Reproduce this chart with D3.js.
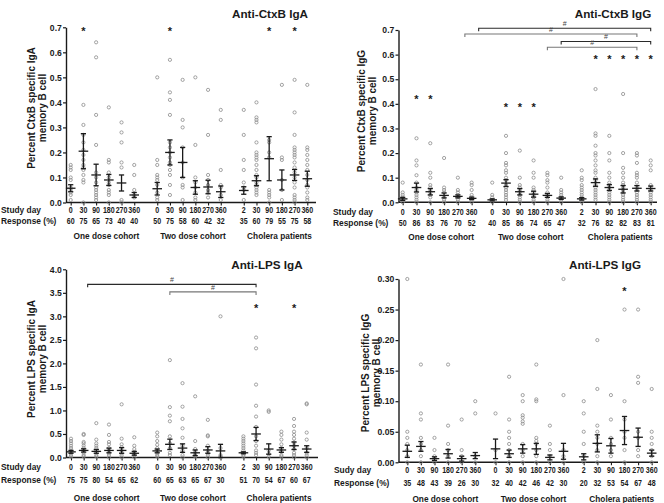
<!DOCTYPE html>
<html><head><meta charset="utf-8">
<script src="https://cdn.jsdelivr.net/npm/d3@7"></script>
<style>body{margin:0;background:#fff} svg{display:block}</style>
</head><body><svg id="c" width="664" height="503"></svg>
<script>
// ---------------- shared categories ----------------
const groupNames = ["One dose cohort", "Two dose cohort", "Cholera patients"];
const studyDays = [0, 30, 90, 180, 270, 360, 0, 30, 90, 180, 270, 360, 2, 30, 90, 180, 270, 360];

// ---------------- Anti-CtxB IgA ----------------
const ctxbIgaTicks = [0, 0.1, 0.2, 0.3, 0.4, 0.5, 0.6, 0.7];
const ctxbIgaPoints = [
  [0.15,0.14,0.13,0.10,0.09,0.06,0.05,0.04,0.03,0.01],
  [0.39,0.31,0.27,0.24,0.21,0.19,0.17,0.15,0.14,0.13,0.11,0.09,0.08,0.0],
  [0.64,0.58,0.35,0.23,0.12,0.10,0.08,0.06,0.05,0.04,0.03,0.02,0.01],
  [0.38,0.17,0.16,0.12,0.10,0.08,0.07,0.05,0.04,0.03,0.0],
  [0.32,0.28,0.24,0.16,0.14,0.01,0.0],
  [0.15,0.11,0.05,0.03,0.02],
  [0.50,0.17,0.15,0.11,0.10,0.09,0.07,0.04,0.02,0.01],
  [0.57,0.44,0.41,0.35,0.24,0.22,0.20,0.18,0.16,0.15,0.13,0.11,0.07,0.03],
  [0.49,0.33,0.30,0.22,0.16,0.10,0.07,0.06,0.01],
  [0.50,0.23,0.10,0.08,0.06,0.04,0.02,0.01],
  [0.45,0.27,0.11,0.09,0.07,0.05,0.04,0.02],
  [0.37,0.33,0.13,0.07,0.06,0.03,0.01],
  [0.37,0.27,0.17,0.13,0.08,0.06,0.05,0.01],
  [0.40,0.34,0.33,0.32,0.24,0.20,0.19,0.18,0.17,0.15,0.13,0.11,0.10,0.08,0.07,0.06,0.05,0.04,0.03],
  [0.25,0.24,0.20,0.18,0.05,0.04,0.03,0.02,0.0],
  [0.47,0.18,0.17,0.09,0.05,0.01],
  [0.49,0.36,0.27,0.22,0.21,0.20,0.19,0.18,0.16,0.14,0.12,0.10,0.08,0.06,0.03,0.02,0.01,0.0],
  [0.47,0.22,0.21,0.19,0.17,0.15,0.13,0.11,0.09,0.07,0.06,0.04,0.02,0.01]
];
const ctxbIgaMean = [0.057,0.205,0.11,0.09,0.078,0.03, 0.055,0.20,0.16,0.06,0.062,0.043, 0.048,0.087,0.175,0.09,0.11,0.095];
const ctxbIgaSem = [0.014,0.07,0.043,0.022,0.032,0.01, 0.025,0.05,0.06,0.027,0.027,0.023, 0.015,0.02,0.088,0.04,0.022,0.03];
const ctxbIgaResponse = [60,75,65,73,40,40, 50,75,58,60,42,32, 35,60,79,55,75,58];
const ctxbIgaStars = [[1,0.693],[7,0.693],[14,0.693],[16,0.693]];
const ctxbIgaBrackets = [];

// ---------------- Anti-CtxB IgG ----------------
const ctxbIggTicks = [0, 0.1, 0.2, 0.3, 0.4, 0.5, 0.6, 0.7];
const ctxbIggPoints = [
  [0.08,0.04,0.03,0.02,0.01,0.0],
  [0.26,0.17,0.15,0.11,0.08,0.06,0.05,0.04,0.03,0.02,0.01,0.0],
  [0.24,0.12,0.10,0.07,0.06,0.05,0.04,0.03,0.02,0.0],
  [0.18,0.06,0.05,0.04,0.02,0.01,0.0],
  [0.10,0.05,0.04,0.03,0.02,0.01,0.0],
  [0.08,0.07,0.05,0.03,0.02,0.01,0.0],
  [0.08,0.03,0.02,0.01,0.0],
  [0.27,0.20,0.16,0.15,0.13,0.12,0.10,0.09,0.07,0.06,0.05,0.04,0.03,0.02,0.01],
  [0.21,0.10,0.07,0.06,0.05,0.04,0.03,0.02,0.01,0.0],
  [0.17,0.12,0.10,0.06,0.05,0.04,0.03,0.02,0.01,0.0],
  [0.12,0.11,0.09,0.08,0.06,0.04,0.03,0.02,0.01,0.0],
  [0.10,0.05,0.04,0.03,0.02,0.01,0.0],
  [0.13,0.10,0.09,0.07,0.06,0.05,0.04,0.03,0.02,0.01,0.0],
  [0.46,0.28,0.27,0.23,0.20,0.19,0.17,0.15,0.13,0.12,0.10,0.09,0.07,0.06,0.05,0.04,0.03,0.02,0.01],
  [0.27,0.20,0.17,0.12,0.10,0.08,0.07,0.06,0.05,0.04,0.03,0.02,0.01,0.0],
  [0.44,0.20,0.14,0.12,0.10,0.08,0.07,0.06,0.05,0.04,0.03,0.02,0.01,0.0],
  [0.20,0.19,0.16,0.12,0.11,0.10,0.08,0.06,0.05,0.04,0.03,0.02,0.01,0.0],
  [0.17,0.15,0.13,0.07,0.06,0.05,0.04,0.03,0.02,0.01,0.0]
];
const ctxbIggMean = [0.014,0.06,0.043,0.028,0.024,0.016, 0.01,0.078,0.043,0.033,0.028,0.017, 0.014,0.08,0.06,0.053,0.057,0.056];
const ctxbIggSem = [0.006,0.018,0.013,0.01,0.006,0.005, 0.004,0.014,0.013,0.012,0.008,0.005, 0.005,0.015,0.012,0.015,0.011,0.01];
const ctxbIggResponse = [50,86,83,76,70,52, 40,85,86,74,65,47, 32,76,82,82,83,81];
const ctxbIggStars = [[1,0.426],[2,0.426],[7,0.395],[8,0.395],[9,0.395],[13,0.589],[14,0.589],[15,0.589],[16,0.589],[17,0.589]];
// [from category, to category, level]
const ctxbIggBrackets = [[5,17,0.707],[4,16,0.684],[11,17,0.653],[10,16,0.630]];

// ---------------- Anti-LPS IgA ----------------
const lpsIgaTicks = [0, 0.5, 1.0, 1.5, 2.0, 2.5, 3.0, 3.5, 4.0];
const lpsIgaPoints = [
  [0.40,0.35,0.30,0.25,0.20,0.15,0.10,0.05,0.02],
  [0.50,0.48,0.33,0.30,0.25,0.20,0.15,0.10,0.05,0.02],
  [0.73,0.38,0.30,0.25,0.20,0.15,0.10,0.05,0.02],
  [0.70,0.48,0.33,0.28,0.20,0.15,0.10,0.05,0.0],
  [1.13,0.40,0.28,0.22,0.15,0.10,0.05,0.0],
  [0.43,0.25,0.18,0.12,0.08,0.05,0.0],
  [0.53,0.45,0.35,0.27,0.20,0.15,0.10,0.05,0.02],
  [2.07,1.07,0.89,0.77,0.45,0.30,0.20,0.10,0.05],
  [1.58,1.08,0.82,0.62,0.42,0.25,0.15,0.05,0.0],
  [1.30,0.35,0.18,0.12,0.08,0.05,0.02],
  [0.80,0.47,0.45,0.25,0.15,0.10,0.05,0.0],
  [3.00,0.20,0.05,0.02,0.0],
  [0.45,0.40,0.35,0.30,0.25,0.20,0.15,0.10,0.05,0.02],
  [2.55,2.32,1.55,1.10,0.87,0.65,0.45,0.35,0.25,0.15,0.10,0.05],
  [1.00,0.97,0.15,0.08,0.02],
  [0.55,0.48,0.38,0.28,0.20,0.12,0.05,0.02],
  [0.82,0.67,0.55,0.48,0.40,0.32,0.25,0.18,0.10,0.05,0.0],
  [1.15,1.13,0.53,0.38,0.20,0.10,0.05,0.0]
];
const lpsIgaMean = [0.12,0.15,0.13,0.15,0.15,0.09, 0.14,0.28,0.20,0.10,0.16,0.14, 0.10,0.50,0.18,0.16,0.25,0.18];
const lpsIgaSem = [0.03,0.035,0.04,0.05,0.06,0.04, 0.04,0.11,0.09,0.06,0.07,0.14, 0.02,0.14,0.11,0.05,0.08,0.07];
const lpsIgaResponse = [75,75,80,54,65,62, 60,65,63,65,67,30, 51,70,54,67,60,67];
const lpsIgaStars = [[13,3.22],[16,3.22]];
const lpsIgaBrackets = [[1,13,3.68],[7,13,3.52]];

// ---------------- Anti-LPS IgG ----------------
const lpsIggTicks = [0, 0.05, 0.10, 0.15, 0.20, 0.25, 0.30];
const lpsIggPoints = [
  [0.30,0.05,0.04,0.03,0.02,0.01,0.0],
  [0.16,0.08,0.07,0.04,0.03,0.02,0.01,0.0],
  [0.04,0.02,0.01,0.005,0.0],
  [0.16,0.06,0.03,0.02,0.01,0.0],
  [0.07,0.02,0.01,0.0],
  [0.10,0.08,0.01,0.0],
  [0.08,0.02,0.0],
  [0.14,0.07,0.05,0.04,0.03,0.02,0.01,0.0],
  [0.11,0.10,0.077,0.073,0.067,0.063,0.03,0.02,0.01,0.0],
  [0.16,0.103,0.10,0.04,0.035,0.03,0.02,0.01,0.0],
  [0.06,0.03,0.02,0.01,0.0],
  [0.30,0.11,0.02,0.01,0.0],
  [0.10,0.08,0.05,0.03,0.01,0.0],
  [0.20,0.12,0.06,0.05,0.04,0.03,0.02,0.01,0.0],
  [0.11,0.07,0.04,0.03,0.02,0.01],
  [0.25,0.10,0.07,0.05,0.04,0.02,0.0],
  [0.25,0.14,0.13,0.05,0.04,0.02,0.01],
  [0.12,0.05,0.04,0.03,0.02,0.01,0.0]
];
const lpsIggMean = [0.018,0.026,0.006,0.014,0.006,0.011, 0.022,0.014,0.022,0.022,0.008,0.018, 0.009,0.031,0.027,0.052,0.041,0.015];
const lpsIggSem = [0.01,0.008,0.003,0.007,0.004,0.005, 0.016,0.006,0.007,0.009,0.004,0.013, 0.005,0.014,0.012,0.023,0.015,0.005];
const lpsIggResponse = [35,48,43,39,26,30, 32,40,42,46,42,30, 20,32,53,54,67,48];
const lpsIggStars = [[15,0.283]];
const lpsIggBrackets = [];

// ---------------- layout (pixels / styles only) ----------------
const FONT = "'Liberation Sans', Arial, Helvetica, sans-serif";
const INK = "#1a1a1a";
const panels = [
  { title: "Anti-CtxB IgA", titleX: 270, titleY: 18, yLabel: ["Percent CtxB specific IgA", "memory B cell"],
    yLabX: [35, 46], yLabY: 108, ticks: ctxbIgaTicks, fmt: ".1f",
    points: ctxbIgaPoints, mean: ctxbIgaMean, sem: ctxbIgaSem, resp: ctxbIgaResponse, stars: ctxbIgaStars, brackets: ctxbIgaBrackets,
    axisX: 66, axisR: 316, yTop: 27.3, yBottom: 202.5, xFirst: 70.7, xLast: 307.3, gap: 1.81,
    dayLabel: "Study day", leftX: 1, dayY: 213, respY: 224, groupY: 239, bracketNudge: 0 },
  { title: "Anti-CtxB IgG", titleX: 613, titleY: 18, yLabel: ["Percent CtxB specific IgG", "memory B cell"],
    yLabX: [364.5, 375.5], yLabY: 111, ticks: ctxbIggTicks, fmt: ".1f",
    points: ctxbIggPoints, mean: ctxbIggMean, sem: ctxbIggSem, resp: ctxbIggResponse, stars: ctxbIggStars, brackets: ctxbIggBrackets,
    axisX: 398.5, axisR: 657, yTop: 30, yBottom: 202.3, xFirst: 402.7, xLast: 650.7, gap: 1.49,
    dayLabel: "Study day", leftX: 333, dayY: 215, respY: 225.5, groupY: 239.5, bracketNudge: 7 },
  { title: "Anti-LPS IgA", titleX: 267, titleY: 269, yLabel: ["Percent LPS specific IgA", "memory B cell"],
    yLabX: [35, 46], yLabY: 359, ticks: lpsIgaTicks, fmt: ".1f",
    points: lpsIgaPoints, mean: lpsIgaMean, sem: lpsIgaSem, resp: lpsIgaResponse, stars: lpsIgaStars, brackets: lpsIgaBrackets,
    axisX: 66, axisR: 318, yTop: 269.3, yBottom: 457.5, xFirst: 71, xLast: 306.7, gap: 1.81,
    dayLabel: "Study day", leftX: 1, dayY: 469.5, respY: 482.5, groupY: 500.5, bracketNudge: 4 },
  { title: "Anti-LPS IgG", titleX: 605, titleY: 269, yLabel: ["Percent LPS specific IgG", "memory B cell"],
    yLabX: [368.5, 380], yLabY: 373, ticks: lpsIggTicks, fmt: ".2f",
    points: lpsIggPoints, mean: lpsIggMean, sem: lpsIggSem, resp: lpsIggResponse, stars: lpsIggStars, brackets: lpsIggBrackets,
    axisX: 398.5, axisR: 658, yTop: 279, yBottom: 462.3, xFirst: 407.3, xLast: 651.7, gap: 1.49,
    dayLabel: "Sudy day", leftX: 334, dayY: 472.5, respY: 485.5, groupY: 502, bracketNudge: 0 }
];

const svg = d3.select("#c");

function drawPanel(p) {
  const g = svg.append("g");
  const slot = i => Math.floor(i / 6) * (5 + p.gap) + (i % 6);
  const x = d3.scaleLinear().domain([0, 15 + 2 * p.gap]).range([p.xFirst, p.xLast]);
  const y = d3.scaleLinear().domain([0, d3.max(p.ticks)]).range([p.yBottom, p.yTop]);
  const cx = i => x(slot(i));

  // title
  g.append("text").attr("x", p.titleX).attr("y", p.titleY).attr("text-anchor", "middle")
    .style("font", `bold 11.7px ${FONT}`).attr("fill", INK).text(p.title);

  // y label
  p.yLabel.forEach((t, k) => {
    g.append("text").attr("transform", `translate(${p.yLabX[k]},${p.yLabY}) rotate(-90)`)
      .attr("text-anchor", "middle").style("font", `bold 10px ${FONT}`).attr("fill", INK).text(t);
  });

  // y axis
  const ya = g.append("g").attr("transform", `translate(${p.axisX},0)`)
    .call(d3.axisLeft(y).tickValues(p.ticks).tickFormat(d3.format(p.fmt)).tickSize(3).tickSizeOuter(0).tickPadding(1.2));
  ya.select(".domain").attr("stroke", INK).attr("stroke-width", 1.4);
  ya.selectAll(".tick line").attr("stroke", INK).attr("stroke-width", 1.2);
  ya.selectAll(".tick text").style("font", `bold 8.6px ${FONT}`).attr("fill", INK);

  // x axis: line + category ticks
  g.append("line").attr("x1", p.axisX).attr("x2", p.axisR).attr("y1", y(0)).attr("y2", y(0))
    .attr("stroke", INK).attr("stroke-width", 1.4);
  const xa = g.append("g").attr("transform", `translate(0,${y(0)})`)
    .call(d3.axisBottom(x).tickValues(studyDays.map((d, i) => slot(i))).tickFormat("").tickSize(3).tickSizeOuter(0));
  xa.select(".domain").remove();
  xa.selectAll(".tick line").attr("stroke", INK).attr("stroke-width", 1.1);

  // dots
  const dotData = [];
  p.points.forEach((arr, i) => arr.forEach(v => dotData.push({ i, v })));
  g.append("g").selectAll("circle").data(dotData).join("circle")
    .attr("cx", d => cx(d.i)).attr("cy", d => y(d.v)).attr("r", 1.6)
    .attr("fill", "none").attr("stroke", "#8c8c8c").attr("stroke-width", 0.8);

  // mean +/- sem
  const ms = g.append("g").attr("stroke", INK).attr("stroke-width", 1.3);
  p.mean.forEach((m, i) => {
    const s = p.sem[i], X = cx(i);
    ms.append("line").attr("x1", X - 4.8).attr("x2", X + 4.8).attr("y1", y(m)).attr("y2", y(m));
    ms.append("line").attr("x1", X).attr("x2", X).attr("y1", y(m - s)).attr("y2", y(m + s));
    ms.append("line").attr("x1", X - 2.6).attr("x2", X + 2.6).attr("y1", y(m + s)).attr("y2", y(m + s));
    ms.append("line").attr("x1", X - 2.6).attr("x2", X + 2.6).attr("y1", y(m - s)).attr("y2", y(m - s));
  });

  // stars
  g.append("g").selectAll("text").data(p.stars).join("text")
    .attr("x", d => cx(d[0])).attr("y", d => y(d[1]) + 5.8).attr("text-anchor", "middle")
    .style("font", `bold 11px ${FONT}`).attr("fill", INK).text("*");

  // brackets
  p.brackets.forEach((b, k) => {
    const x1 = cx(b[0]) + (b[0] < 6 ? p.bracketNudge : 0), x2 = cx(b[1]), yy = y(b[2]);
    const col = k % 2 === 0 ? "#2a2a2a" : "#777";
    g.append("path").attr("d", `M${x1},${yy + 3}V${yy}H${x2}V${yy + 3}`)
      .attr("fill", "none").attr("stroke", col).attr("stroke-width", 1.1);
    g.append("text").attr("x", (x1 + x2) / 2).attr("y", yy - 2.3).attr("text-anchor", "middle")
      .style("font", `7px ${FONT}`).attr("fill", "#444").text("#");
  });

  // bottom rows (numbers set slightly condensed like the original)
  const rowFont = `bold 8.4px ${FONT}`;
  const numFont = `bold 8.6px ${FONT}`;
  const squeeze = 0.82;
  g.append("text").attr("x", p.leftX).attr("y", p.dayY).style("font", rowFont).attr("fill", INK).text(p.dayLabel);
  g.append("text").attr("x", p.leftX).attr("y", p.respY).style("font", rowFont).attr("fill", INK).text("Response (%)");
  g.append("g").selectAll("text").data(studyDays).join("text")
    .attr("transform", (d, i) => `translate(${cx(i)},${p.dayY}) scale(${squeeze},1)`).attr("text-anchor", "middle")
    .style("font", numFont).attr("fill", INK).text(d => d);
  g.append("g").selectAll("text").data(p.resp).join("text")
    .attr("transform", (d, i) => `translate(${cx(i)},${p.respY}) scale(${squeeze},1)`).attr("text-anchor", "middle")
    .style("font", numFont).attr("fill", INK).text(d => d);
  g.append("g").selectAll("text").data(groupNames).join("text")
    .attr("transform", (d, k) => `translate(${(cx(k * 6) + cx(k * 6 + 5)) / 2 + 4},${p.groupY}) scale(0.9,1)`)
    .attr("text-anchor", "middle")
    .style("font", `bold 9.2px ${FONT}`).attr("fill", INK).text(d => d);
}

panels.forEach(drawPanel);
</script>
</body></html>
